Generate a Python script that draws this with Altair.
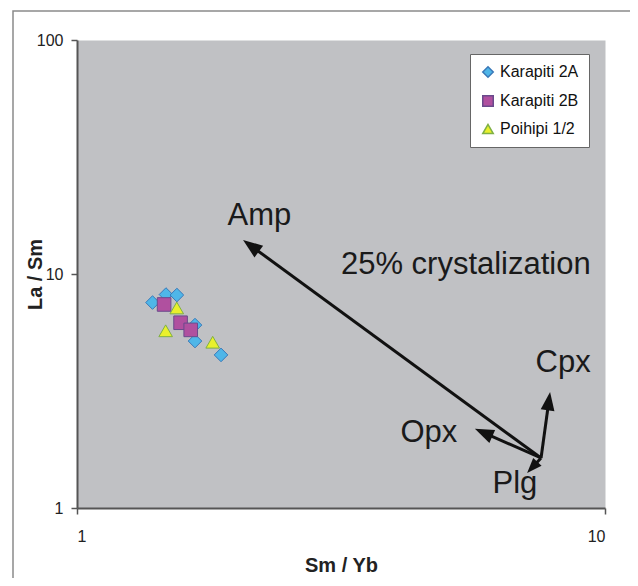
import math
import altair as alt
import pandas as pd

# ---- data (Sm/Yb vs La/Sm, log-log) ----
series_names = ["Karapiti 2A", "Karapiti 2B", "Poihipi 1/2"]
k2a_x = [1.390, 1.474, 1.546, 1.673, 1.673, 1.874]
k2a_y = [7.55, 8.17, 8.13, 6.05, 5.17, 4.51]
k2b_x = [1.462, 1.571, 1.642]
k2b_y = [7.41, 6.19, 5.77]
poi_x = [1.545, 1.472, 1.807]
poi_y = [7.16, 5.72, 5.11]

series_fill = ["#4fb6e8", "#b0509f", "#e9f02c"]
series_stroke = ["#3a78b8", "#6a4a8c", "#7fb044"]
series_shape = ["diamond", "square", "triangle-up"]

# crystallization vectors
origin_x, origin_y = 7.566, 1.636
arrow_names = ["Amp", "Opx", "Cpx", "Plg"]
arrow_tip_x = [2.063, 5.67, 7.87, 7.12]
arrow_tip_y = [13.97, 2.18, 3.13, 1.41]
arrow_head_size = [380, 360, 340, 230]

label_texts = ["Amp", "25% crystalization", "Cpx", "Opx", "Plg"]
label_x = [2.216, 5.45, 8.33, 4.64, 6.75]
label_y = [17.7, 10.9, 4.17, 2.09, 1.27]

x_ticks = [1, 10]
y_ticks = [1, 10, 100]

W, H = 528, 468
FONT = "Liberation Sans"

# ---- build tables ----
rows = []
for name, xs_, ys_ in zip(series_names, [k2a_x, k2b_x, poi_x], [k2a_y, k2b_y, poi_y]):
    for xv, yv in zip(xs_, ys_):
        rows.append({"series": name, "x": xv, "y": yv})
pts = pd.DataFrame(rows)


def to_px(xv, yv):
    return math.log10(xv) * W, H - math.log10(yv) / 2 * H


def from_px(px, py):
    return 10 ** (px / W), 10 ** (2 * (H - py) / H)


ox, oy = to_px(origin_x, origin_y)
arrows = []
for n, tx, ty, hs in zip(arrow_names, arrow_tip_x, arrow_tip_y, arrow_head_size):
    px, py = to_px(tx, ty)
    dx, dy = px - ox, py - oy
    L = math.hypot(dx, dy)
    ux, uy = dx / L, dy / L
    back = math.sqrt(hs) / 2
    cx, cy = px - ux * back, py - uy * back
    hx, hy = from_px(cx, cy)
    ang = math.degrees(math.atan2(dx, -dy)) % 360
    arrows.append({"name": n, "x": origin_x, "y": origin_y, "x2": hx, "y2": hy,
                   "hx": hx, "hy": hy, "angle": ang, "hs": hs})
arr = pd.DataFrame(arrows)
labels = pd.DataFrame({"text": label_texts, "x": label_x, "y": label_y})

xs = alt.Scale(type="log", domain=[1, 10], nice=False)
ys = alt.Scale(type="log", domain=[1, 100], nice=False)

x_axis = alt.Axis(values=x_ticks, format="d", title="Sm / Yb", labelPadding=14,
                  titleX=264, titleY=57, titleBaseline="middle")
y_axis = alt.Axis(values=y_ticks, format="d", title="La / Sm", labelPadding=8,
                  titleX=-42, titleY=234, titleAngle=270, titleBaseline="middle",
                  titleAlign="center")

frame = alt.Chart(pd.DataFrame({"a": [0]})).mark_rect(
    fill="transparent", stroke="#8a8a8a", strokeWidth=1.5
).encode(x=alt.value(-64), x2=alt.value(800), y=alt.value(-29), y2=alt.value(800))

shafts = alt.Chart(arr).mark_rule(color="#111111", strokeWidth=3).encode(
    x=alt.X("x:Q", scale=xs, axis=x_axis),
    y=alt.Y("y:Q", scale=ys, axis=y_axis),
    x2="x2:Q", y2="y2:Q",
)

heads = alt.Chart(arr).mark_point(
    shape="M0,-1L0.75,1L-0.75,1Z", filled=True,
    color="#111111", opacity=1
).encode(
    x=alt.X("hx:Q", scale=xs),
    y=alt.Y("hy:Q", scale=ys),
    angle=alt.Angle("angle:Q", scale=None),
    size=alt.Size("hs:Q", scale=None),
)

legend = alt.Legend(
    title=None, orient="none", legendX=393, legendY=14,
    fillColor="white", strokeColor="#666666", padding=10,
    labelFont=FONT, labelFontSize=16, labelColor="#111111",
    symbolSize=110, rowPadding=11, labelOffset=4,
)

points = alt.Chart(pts).mark_point(filled=True, size=185, opacity=1, strokeWidth=1).encode(
    x=alt.X("x:Q", scale=xs),
    y=alt.Y("y:Q", scale=ys),
    fill=alt.Fill("series:N", scale=alt.Scale(domain=series_names, range=series_fill), legend=legend),
    stroke=alt.Stroke("series:N", scale=alt.Scale(domain=series_names, range=series_stroke), legend=legend),
    shape=alt.Shape("series:N", scale=alt.Scale(domain=series_names, range=series_shape), legend=legend),
)

texts = alt.Chart(labels).mark_text(
    font=FONT, fontSize=31, color="#1a1a1a", align="center", baseline="middle"
).encode(
    x=alt.X("x:Q", scale=xs),
    y=alt.Y("y:Q", scale=ys),
    text="text:N",
)

chart = alt.layer(frame, shafts, heads, points, texts).properties(
    width=W, height=H,
    padding={"left": 69, "top": 32, "right": 25, "bottom": 70},
    autosize=alt.AutoSizeParams(type="none"),
    background="white",
).configure_view(
    fill="#c0c1c4", stroke="transparent"
).configure_axis(
    grid=False, domainColor="#555555", domainWidth=2, tickColor="#555555",
    tickSize=6, tickWidth=1.5, labelFont=FONT, labelFontSize=16, labelColor="#222222",
    titleFont=FONT, titleFontSize=20, titleFontWeight="bold", titleColor="#222222",
)

chart.save("out.html", embed_options={"renderer": "svg", "actions": False})
